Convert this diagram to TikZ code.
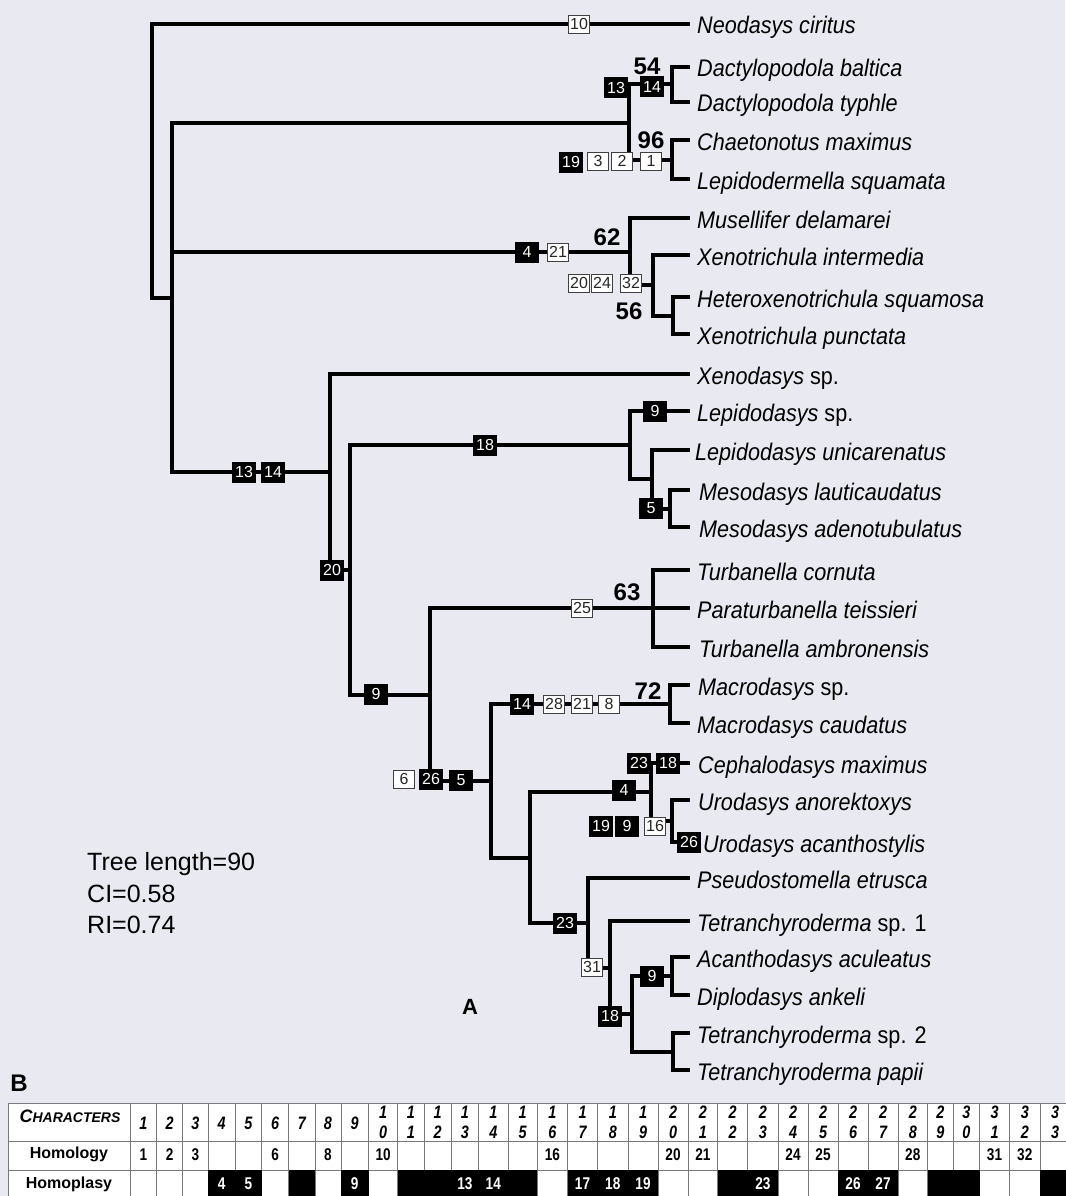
\documentclass[tikz,border=0pt]{standalone}
\usepackage{fontspec}
\setmainfont{Liberation Sans}
\newfontfamily\narrowsans[FakeStretch=0.9]{Liberation Sans}
\newfontfamily\condsans[FakeStretch=0.8]{Liberation Sans}
\definecolor{bgc}{RGB}{233,234,241}
\definecolor{gridc}{RGB}{120,120,125}
\tikzset{
  br/.style={line width=4pt, line join=miter},
  tax/.style={anchor=base west, inner sep=0pt, font=\narrowsans\fontsize{24}{28}\selectfont\itshape},
  wbox/.style={draw=black!75, line width=0.9pt, fill=white, text=black!85, minimum width=21pt, minimum height=18pt, inner sep=1pt, font=\fontsize{16}{16}\selectfont},
  bbox/.style={fill=black, text=white, minimum width=24pt, minimum height=21pt, inner sep=1pt, font=\fontsize{16}{16}\selectfont},
  bsv/.style={inner sep=0pt, font=\bfseries\fontsize{24}{24}\selectfont},
  stat/.style={anchor=base west, inner sep=0pt, font=\fontsize{25}{25}\selectfont},
  gridl/.style={draw=gridc, line width=0.8pt},
  hdr/.style={inner sep=0pt, font=\condsans\bfseries\itshape\fontsize{18}{18}\selectfont},
  homn/.style={inner sep=0pt, font=\condsans\bfseries\fontsize{17}{17}\selectfont},
  rowl/.style={inner sep=0pt, font=\bfseries\fontsize{16}{16}\selectfont},
}
\newcommand\colcx[1]{%
  \pgfmathsetmacro\cl{\xb[#1]}%
  \pgfmathsetmacro\cr{\xb[#1+1]}%
  \pgfmathsetmacro\cx{(\cl+\cr)/2}}
\begin{document}
\begin{tikzpicture}[x=1pt,y=-1pt]
\useasboundingbox (0,0) rectangle (1065,1196);
\fill[bgc] (0,0) rectangle (1065,1196);

% tips
\coordinate (t1) at (690,24);
\coordinate (t2) at (690,67);
\coordinate (t3) at (690,102);
\coordinate (t4) at (690,140);
\coordinate (t5) at (690,179);
\coordinate (t6) at (690,218);
\coordinate (t7) at (690,255);
\coordinate (t8) at (690,297);
\coordinate (t9) at (690,334);
\coordinate (t10) at (690,374);
\coordinate (t11) at (690,411);
\coordinate (t12) at (690,450);
\coordinate (t13) at (690,490);
\coordinate (t14) at (690,527);
\coordinate (t15) at (690,570);
\coordinate (t16) at (690,608);
\coordinate (t17) at (690,647);
\coordinate (t18) at (690,685);
\coordinate (t19) at (690,723);
\coordinate (t20) at (690,763);
\coordinate (t21) at (690,800);
\coordinate (t22) at (690,842);
\coordinate (t23) at (690,878);
\coordinate (t24) at (690,921);
\coordinate (t25) at (690,957);
\coordinate (t26) at (690,995);
\coordinate (t27) at (690,1033);
\coordinate (t28) at (690,1070);

% internal nodes
\coordinate (R) at (152,160.5);
\coordinate (A) at (172,297.5);
\coordinate (C1) at (629,123);
\coordinate (D1) at (672,84.5);
\coordinate (D2) at (672,160);
\coordinate (C2) at (630,251.5);
\coordinate (E) at (653,285);
\coordinate (F) at (673,315.5);
\coordinate (C3) at (330,472);
\coordinate (G) at (350,570);
\coordinate (H) at (630,445);
\coordinate (J) at (652,479);
\coordinate (K) at (670,508.5);
\coordinate (I) at (430,694.5);
\coordinate (L) at (653,608);
\coordinate (M) at (491,781);
\coordinate (N) at (670,704);
\coordinate (O) at (530,857.5);
\coordinate (P) at (651,792);
\coordinate (S) at (672,821);
\coordinate (Q) at (588,923);
\coordinate (T) at (610,967.5);
\coordinate (U) at (632,1014);
\coordinate (V) at (672,976);
\coordinate (W) at (673,1051.5);

\foreach \p/\c in {R/t1,R/A,A/C1,A/C2,A/C3,C1/D1,C1/D2,D1/t2,D1/t3,D2/t4,D2/t5,
  C2/t6,C2/E,E/t7,E/F,F/t8,F/t9,C3/t10,C3/G,G/H,G/I,H/t11,H/J,J/t12,J/K,K/t13,K/t14,
  I/L,I/M,L/t15,L/t16,L/t17,M/N,M/O,N/t18,N/t19,O/P,O/Q,P/t20,P/S,S/t21,S/t22,
  Q/t23,Q/T,T/t24,T/U,U/V,U/W,V/t25,V/t26,W/t27,W/t28}
  \draw[br] (\p) |- (\c);

% taxon labels
\node[tax] (l1) at ([shift={(7,10)}]t1) {Neodasys ciritus};
\node[tax] (l2) at ([shift={(7,10)}]t2) {Dactylopodola baltica};
\node[tax] (l3) at ([shift={(7,10)}]t3) {Dactylopodola typhle};
\node[tax] (l4) at ([shift={(7,10)}]t4) {Chaetonotus maximus};
\node[tax] (l5) at ([shift={(7,10)}]t5) {Lepidodermella squamata};
\node[tax] (l6) at ([shift={(7,10)}]t6) {Musellifer delamarei};
\node[tax] (l7) at ([shift={(7,10)}]t7) {Xenotrichula intermedia};
\node[tax] (l8) at ([shift={(7,10)}]t8) {Heteroxenotrichula squamosa};
\node[tax] (l9) at ([shift={(7,10)}]t9) {Xenotrichula punctata};
\node[tax] (l10) at ([shift={(7,10)}]t10) {Xenodasys {\upshape sp.}};
\node[tax] (l11) at ([shift={(7,10)}]t11) {Lepidodasys {\upshape sp.}};
\node[tax] (l12) at ([shift={(5,10)}]t12) {Lepidodasys unicarenatus};
\node[tax] (l13) at ([shift={(9,10)}]t13) {Mesodasys lauticaudatus};
\node[tax] (l14) at ([shift={(9,10)}]t14) {Mesodasys adenotubulatus};
\node[tax] (l15) at ([shift={(7,10)}]t15) {Turbanella cornuta};
\node[tax] (l16) at ([shift={(7,10)}]t16) {Paraturbanella teissieri};
\node[tax] (l17) at ([shift={(9,10)}]t17) {Turbanella ambronensis};
\node[tax] (l18) at ([shift={(8,10)}]t18) {Macrodasys {\upshape sp.}};
\node[tax] (l19) at ([shift={(7,10)}]t19) {Macrodasys caudatus};
\node[tax] (l20) at ([shift={(8,10)}]t20) {Cephalodasys maximus};
\node[tax] (l21) at ([shift={(8,10)}]t21) {Urodasys anorektoxys};
\node[tax] (l22) at ([shift={(13,10)}]t22) {Urodasys acanthostylis};
\node[tax] (l23) at ([shift={(7,10)}]t23) {Pseudostomella etrusca};
\node[tax] (l24) at ([shift={(7,10)}]t24) {Tetranchyroderma {\upshape sp. 1}};
\node[tax] (l25) at ([shift={(7,10)}]t25) {Acanthodasys aculeatus};
\node[tax] (l26) at ([shift={(7,10)}]t26) {Diplodasys ankeli};
\node[tax] (l27) at ([shift={(7,10)}]t27) {Tetranchyroderma {\upshape sp. 2}};
\node[tax] (l28) at ([shift={(7,10)}]t28) {Tetranchyroderma papii};

% character boxes
\node[wbox] (b10) at (579,24) {10};
\node[bbox] (b13a) at (616,88) {13};
\node[bbox] (b14a) at (652,87) {14};
\node[bbox] (b19a) at (571,162) {19};
\node[wbox] (b3) at (598,161) {3};
\node[wbox] (b2) at (622,161) {2};
\node[wbox] (b1) at (651,161) {1};
\node[bbox] (b4a) at (527,252) {4};
\node[wbox] (b21a) at (558,252) {21};
\node[wbox] (b20) at (579,283) {20};
\node[wbox] (b24) at (602,283) {24};
\node[wbox] (b32) at (631,283) {32};
\node[bbox] (b13b) at (244,472) {13};
\node[bbox] (b14b) at (273,472) {14};
\node[bbox] (b18a) at (485,445) {18};
\node[bbox] (b9a) at (655,411) {9};
\node[bbox] (b5a) at (651,508) {5};
\node[bbox] (b20b) at (332,570) {20};
\node[bbox] (b9b) at (376,694) {9};
\node[wbox] (b25) at (582,608) {25};
\node[wbox] (b6) at (404,779) {6};
\node[bbox] (b26a) at (431,779) {26};
\node[bbox] (b5b) at (461,780) {5};
\node[bbox] (b14c) at (522,704) {14};
\node[wbox] (b28) at (554,704) {28};
\node[wbox] (b21b) at (582,704) {21};
\node[wbox] (b8) at (609,704) {8};
\node[bbox] (b4b) at (624,790) {4};
\node[bbox] (b23a) at (639,763) {23};
\node[bbox] (b18b) at (668,763) {18};
\node[bbox] (b19b) at (601,826) {19};
\node[bbox] (b9c) at (627,826) {9};
\node[wbox] (b16) at (655,826) {16};
\node[bbox] (b26b) at (689,842) {26};
\node[bbox] (b23b) at (565,923) {23};
\node[wbox] (b31) at (592,967) {31};
\node[bbox] (b18c) at (610,1016) {18};
\node[bbox] (b9d) at (652,976) {9};

% support values
\node[bsv] (s54) at (647,66) {54};
\node[bsv] (s96) at (651,140) {96};
\node[bsv] (s62) at (607,237) {62};
\node[bsv] (s56) at (629,311) {56};
\node[bsv] (s63) at (627,592) {63};
\node[bsv] (s72) at (648,691) {72};

% statistics
\node[stat] (st1) at (87,870) {Tree length=90};
\node[stat] (st2) at (87,902) {CI=0.58};
\node[stat] (st3) at (87,933) {RI=0.74};
\node[inner sep=0pt, font=\bfseries\fontsize{22}{22}\selectfont] (pA) at (470,1007) {A};
\node[inner sep=0pt, font=\bfseries\fontsize{24}{24}\selectfont] (pB) at (19,1083) {B};

% table
\def\xb{{8,130,156.6,182.5,208.3,235.2,261.7,288.6,315.1,340.9,368.5,397.7,424.2,451.1,478.6,508,537.2,567.5,597.6,628,658,688,717.7,747.7,778,808,838,868,898,927.6,953,979.5,1009.5,1040,1070}}
\fill[white] (8,1103) rectangle (1070,1200);
\foreach \y in {1103,1141,1170}
  \draw[gridl] (8,\y) -- (1070,\y);
\foreach \k in {0,...,34}{
  \pgfmathsetmacro\xx{\xb[\k]}
  \draw[gridl] (\xx,1103) -- (\xx,1200);
}
\foreach \k in {4,5,7,9,11,12,13,14,15,17,18,19,22,23,26,27,29,30,33}{
  \colcx{\k}
  \fill[black] (\cl,1170) rectangle (\cr,1200);
}
\foreach \k in {1,...,33}{
  \colcx{\k}
  \ifnum\k<10
    \node[hdr] (hd\k) at (\cx,1123) {\k};
  \else
    \pgfmathtruncatemacro\ta{\k/10}
    \pgfmathtruncatemacro\ub{\k-10*\ta}
    \node[hdr] (hda\k) at (\cx,1112) {\ta};
    \node[hdr] (hdb\k) at (\cx,1132) {\ub};
  \fi
}
\foreach \k in {1,2,3,6,8,10,16,20,21,24,25,28,31,32}{
  \colcx{\k}
  \node[homn] (hm\k) at (\cx,1155) {\k};
}
\foreach \k in {4,5,9,13,14,17,18,19,23,26,27}{
  \colcx{\k}
  \node[homn, text=white] (hp\k) at (\cx,1184) {\k};
}
\node[inner sep=0pt, font=\bfseries\itshape] (chr) at (70,1116) {{\fontsize{18}{18}\selectfont C}{\fontsize{14}{14}\selectfont HARACTERS}};
\node[rowl] (rhom) at (69,1154) {Homology};
\node[rowl] (rhp) at (69,1184) {Homoplasy};
\end{tikzpicture}
\end{document}
